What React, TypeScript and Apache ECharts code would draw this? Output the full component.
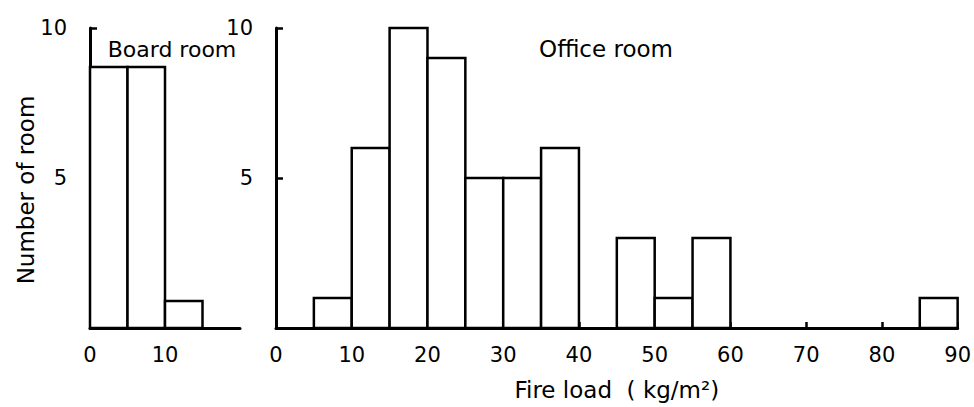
import React, { useEffect, useRef } from "react";
import * as echarts from "echarts";

const binWidth = 5;
const boardBinStarts = [0, 5, 10];
const boardCounts = [8.7, 8.7, 0.9];
const officeBinStarts = [5, 10, 15, 20, 25, 30, 35, 45, 50, 55, 85];
const officeCounts = [1, 6, 10, 9, 5, 5, 6, 3, 1, 3, 1];
const yTicks = [0, 5, 10];
const boardTitle = "Board room";
const officeTitle = "Office room";
const xName = "Fire load  ( kg/m²)";
const yName = "Number of room";

const FONT = "DejaVu Sans";

function histData(starts: number[], counts: number[]) {
  return starts.map((s, i) => [s, s + binWidth, counts[i]]);
}

const renderBar = (params: any, api: any) => {
  const x0 = api.value(0);
  const x1 = api.value(1);
  const y = api.value(2);
  const p0 = api.coord([x0, y]);
  const p1 = api.coord([x1, 0]);
  return {
    type: "rect",
    shape: { x: p0[0], y: p0[1], width: p1[0] - p0[0], height: p1[1] - p0[1] },
    style: { fill: "#fff", stroke: "#000", lineWidth: 2.5 },
  };
};

export default function App() {
  const ref = useRef<HTMLDivElement>(null);
  useEffect(() => {
    if (!ref.current) return;
    const chart = echarts.init(ref.current, null, { renderer: "svg" });
    const axisCommon = {
      axisLine: { show: true, lineStyle: { color: "#000", width: 3 } },
      axisTick: { show: true, inside: true, length: 6, lineStyle: { color: "#000", width: 2.5 } },
      splitLine: { show: false },
      axisLabel: { color: "#000", fontFamily: FONT, fontSize: 21 },
    };
    chart.setOption({
      animation: false,
      backgroundColor: "#fff",
      textStyle: { fontFamily: FONT },
      grid: [
        { left: 90, top: 28, width: 150, height: 300 },
        { left: 276, top: 28, width: 682, height: 300 },
      ],
      xAxis: [
        {
          gridIndex: 0,
          type: "value",
          min: 0,
          max: 20,
          interval: 10,
          ...axisCommon,
          axisTick: { show: false },
          axisLabel: {
            ...axisCommon.axisLabel,
            margin: 16,
            formatter: (v: number) => (v === 20 ? "" : String(v)),
          },
        },
        {
          gridIndex: 1,
          type: "value",
          min: 0,
          max: 90,
          interval: 10,
          ...axisCommon,
          axisLabel: { ...axisCommon.axisLabel, margin: 16 },
          name: xName,
          nameLocation: "middle",
          nameGap: 50,
          nameTextStyle: { color: "#000", fontFamily: FONT, fontSize: 23 },
        },
      ],
      yAxis: [0, 1].map((g) => ({
        gridIndex: g,
        type: "value",
        min: yTicks[0],
        max: yTicks[yTicks.length - 1],
        interval: 5,
        ...axisCommon,
        axisTick: { show: true, inside: true, length: 7, lineStyle: { color: "#000", width: 2.5 } },
        axisLabel: {
          ...axisCommon.axisLabel,
          margin: 23,
          formatter: (v: number) => (v === 0 ? "" : String(v)),
        },
      })),
      series: [
        {
          type: "custom",
          xAxisIndex: 0,
          yAxisIndex: 0,
          renderItem: renderBar,
          encode: { x: [0, 1], y: 2 },
          data: histData(boardBinStarts, boardCounts),
          z: 1,
        },
        {
          type: "custom",
          xAxisIndex: 1,
          yAxisIndex: 1,
          renderItem: renderBar,
          encode: { x: [0, 1], y: 2 },
          data: histData(officeBinStarts, officeCounts),
          z: 1,
        },
      ],
      graphic: [
        {
          type: "text",
          x: 172,
          y: 49,
          style: {
            text: boardTitle,
            fill: "#000",
            font: `22px "${FONT}"`,
            align: "center",
            verticalAlign: "middle",
          },
        },
        {
          type: "text",
          x: 606,
          y: 49,
          style: {
            text: officeTitle,
            fill: "#000",
            font: `23px "${FONT}"`,
            align: "center",
            verticalAlign: "middle",
          },
        },
        {
          type: "text",
          x: 26,
          y: 190,
          rotation: Math.PI / 2,
          style: {
            text: yName,
            fill: "#000",
            font: `23px "${FONT}"`,
            align: "center",
            verticalAlign: "middle",
          },
        },
      ],
    });
    return () => chart.dispose();
  }, []);
  return (
    <div
      ref={ref}
      style={{ position: "fixed", left: 0, top: 0, width: 974, height: 407, background: "#fff" }}
    />
  );
}
